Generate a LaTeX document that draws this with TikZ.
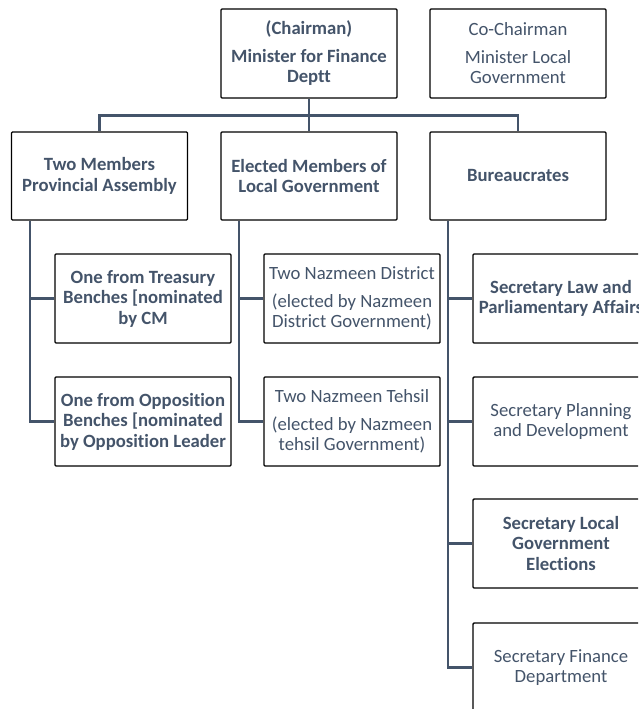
\documentclass[tikz,border=0pt]{standalone}
\usepackage{fontspec}
\setmainfont[Ligatures=NoCommon]{Carlito}
\definecolor{slate}{HTML}{44546A}
\begin{document}
\begin{tikzpicture}[x=1pt,y=-1pt,
  box/.style={draw=black, line width=1.4pt, rounded corners=1pt, fill=white,
    minimum width=176pt, minimum height=89pt, align=center, text=slate,
    inner sep=2pt, font=\fontsize{18.7}{20.5}\selectfont},
  bbox/.style={box, font=\fontsize{18.7}{20.5}\selectfont\bfseries},
  link/.style={draw=slate, line width=2.2pt}]
\useasboundingbox (0,0) rectangle (638,709);
\clip (0,0) rectangle (638,709);

% top row
\node[bbox] (chair) at (309,53.5) {(Chairman)\\[7pt]Minister for Finance\\Deptt};
\node[box]  (cochair) at (518,53.5) {Co-Chairman\\[7pt]Minister Local\\Government};

% second row
\node[bbox, minimum height=88pt] (pa)  at (99.5,176) {Two Members\\Provincial Assembly};
\node[bbox, minimum height=88pt] (lg)  at (309,176)  {Elected Members of\\Local Government};
\node[bbox, minimum height=88pt] (bur) at (518,176)  {Bureaucrates};

% provincial assembly members
\node[bbox] (tre) at (143,298.5) {One from Treasury\\Benches [nominated\\by CM};
\node[bbox] (opp) at (143,421.5) {One from Opposition\\Benches [nominated\\by Opposition Leader};

% local government members
\node[box] (dist) at (352,298.5) {Two Nazmeen District\\[7pt](elected by Nazmeen\\District Government)};
\node[box] (teh)  at (352,421.5) {Two Nazmeen Tehsil\\[7pt](elected by Nazmeen\\tehsil Government)};

% bureaucrats
\node[bbox] (law)  at (561,298.5) {Secretary Law and\\Parliamentary Affairs};
\node[box]  (plan) at (561,421.5) {Secretary Planning\\and Development};
\node[bbox] (elec) at (561,543.5) {Secretary Local\\Government\\Elections};
\node[box]  (fin)  at (561,667.5) {Secretary Finance\\Department};

% connectors
\coordinate (bus) at (309,115.5);
\draw[link] (chair.south) -- (lg.north);
\draw[link] (pa.north) |- (bus) -| (bur.north);
\draw[link] ([xshift=19pt]pa.south west) |- (tre.west);
\draw[link] ([xshift=19pt]pa.south west) |- (opp.west);
\draw[link] ([xshift=19pt]lg.south west) |- (dist.west);
\draw[link] ([xshift=19pt]lg.south west) |- (teh.west);
\draw[link] ([xshift=19pt]bur.south west) |- (law.west);
\draw[link] ([xshift=19pt]bur.south west) |- (plan.west);
\draw[link] ([xshift=19pt]bur.south west) |- (elec.west);
\draw[link] ([xshift=19pt]bur.south west) |- (fin.west);
\end{tikzpicture}
\end{document}
